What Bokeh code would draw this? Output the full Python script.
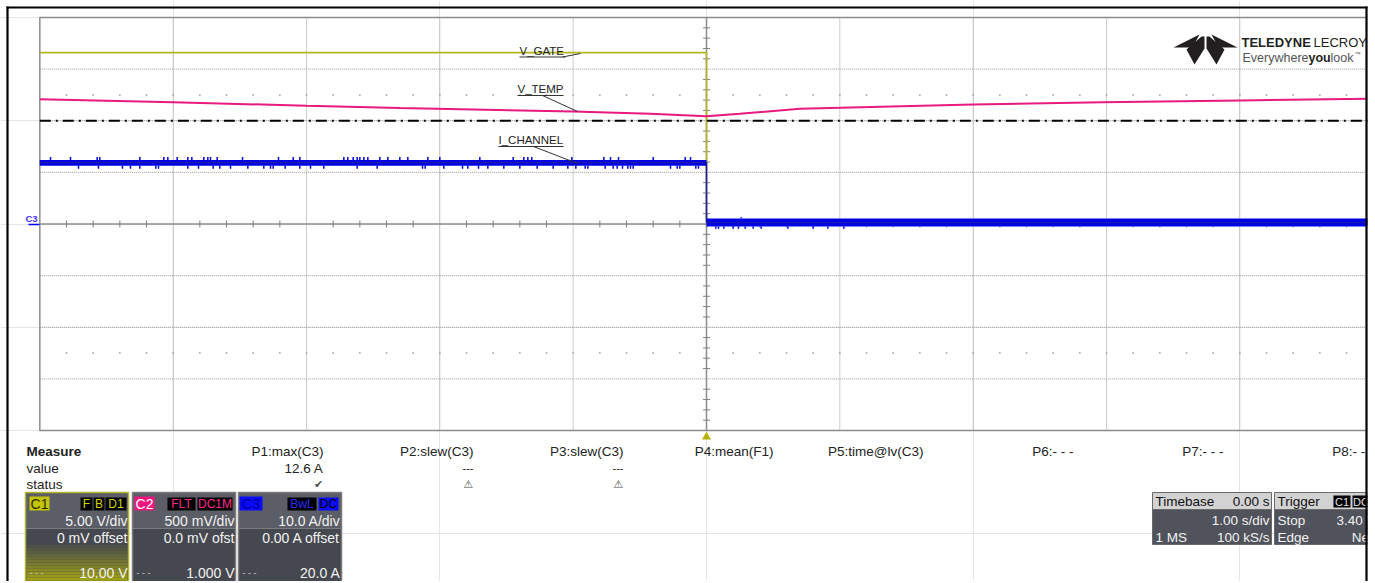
import numpy as np
from bokeh.plotting import figure
from bokeh.models import Range1d
from bokeh.core.properties import value
from bokeh.embed import file_html
from bokeh.resources import INLINE

channels = ["C1", "C2", "C3"]
trace_names = ["V_GATE", "V_TEMP", "I_CHANNEL"]
volts_per_div = [5.00, 0.500, 10.0]
div_labels = ["5.00 V/div", "500 mV/div", "10.0 A/div"]
offset_labels = ["0 mV offset", "0.0 mV ofst", "0.00 A offset"]
level_labels = ["10.00 V", "1.000 V", "20.0 A"]
badges = [["F", "B", "D1"], ["FLT", "DC1M"], ["BwL", "DC"]]
sec_per_div = 1.00
n_hdiv, n_vdiv = 10, 8

# C1  V_GATE  (V)
c1_t = [-5.0, 0.0, 0.0, 4.96]
c1_v = [16.6, 16.6, 0.3, 0.3]

# C2  V_TEMP  (V)
c2_t = [-5.0, -4.0, -3.0, -2.3, -1.0, -0.42, 0.0, 0.25, 0.7, 2.0, 2.97, 4.0, 4.96]
c2_v = [1.209, 1.180, 1.145, 1.123, 1.090, 1.067, 1.044, 1.067, 1.116, 1.157, 1.180, 1.196, 1.213]

# C3  I_CHANNEL  (A) envelope of the noisy band
c3_t = [-5.0, 0.0, 0.0, 4.96]
c3_hi = [12.4, 12.4, 1.07, 1.07]
c3_lo = [11.3, 11.3, -0.48, -0.48]
c3_mid = [11.9, 11.9, 0.3, 0.3]
# glitches seen on C3 (s)
c3_up_before = [-4.92, -4.77, -4.57, -4.55, -4.25, -4.07, -4.04, -3.97, -3.89, -3.86, -3.77, -3.74,
                -3.72, -3.67, -3.48, -3.21, -3.10, -3.05, -2.72, -2.69, -2.65, -2.62, -2.60, -2.57,
                -2.54, -2.45, -2.39, -2.30, -2.24, -2.09, -2.00, -1.70, -1.45, -1.37, -1.34, -1.31,
                -1.01, -0.77, -0.72, -0.66, -0.40, -0.16, -0.12]
c3_dn_before = [-4.71, -4.56, -4.38, -4.32, -4.25, -4.13, -4.11, -3.89, -3.81, -3.70, -3.65, -3.57,
                -3.44, -3.32, -3.27, -3.25, -3.16, -3.05, -2.97, -2.87, -2.62, -2.47, -2.13, -2.11,
                -1.97, -1.83, -1.79, -1.71, -1.64, -1.52, -1.40, -1.27, -1.15, -1.04, -0.98, -0.91,
                -0.89, -0.76, -0.70, -0.67, -0.63, -0.59, -0.57, -0.55, -0.27, -0.22, -0.20, -0.08, -0.06]
c3_dn_after = [0.07, 0.09, 0.13, 0.20, 0.24, 0.29, 0.35, 0.41, 0.61, 0.80, 0.91, 1.03]
c3_up_after = [0.26]
c3_peak_before = [13.0, 10.7]
c3_peak_after = [1.3, -0.9]

ref_level_div = 2.0   # dash-dot reference level

measure_names = ["P1:max(C3)", "P2:slew(C3)", "P3:slew(C3)", "P4:mean(F1)",
                 "P5:time@lv(C3)", "P6:- - -", "P7:- - -", "P8:- - -"]
measure_values = ["12.6 A", "---", "---", "", "", "", "", ""]
measure_status = ["\u2714", "\u26a0", "\u26a0", "", "", "", "", ""]

# ---------------- layout (pixels of the page) ----------------
W, H = 1373, 581
OX, OY = 0, 0
T0PX, PXS = 706.0, 133.333      # pixel of t=0, pixels per division
Y0PX, PXD = 223.5, 51.625       # pixel of 0 div, pixels per division


def X(px):
    return (px - T0PX) / PXS * sec_per_div


def Y(py):
    return (Y0PX - py) / PXD


xs, xe = X(OX), X(OX + W)
ys, ye = Y(OY + H), Y(OY)

p = figure(width=W, height=H, x_range=Range1d(xs, xe), y_range=Range1d(ys, ye),
           output_backend="svg", toolbar_location=None,
           x_axis_location=None, y_axis_location=None, min_border=0,
           min_border_left=0, min_border_right=0, min_border_top=0, min_border_bottom=0)
p.outline_line_color = None
p.background_fill_color = "white"
p.border_fill_color = "white"
p.extra_y_ranges = {ch: Range1d(ys * v, ye * v) for ch, v in zip(channels, volts_per_div)}

FONT = "Liberation Sans"


def txt(px, py, s, size=13.5, color="#222222", align="left", bold=False, font=FONT):
    p.text(x=[X(px)], y=[Y(py)], text=[s], text_font=value(font), text_font_size=f"{size}px",
           text_color=color, text_align=align, text_baseline="middle",
           text_font_style="bold" if bold else "normal")


def box(l, t, r, b, fill, line=None, lw=1.0):
    p.quad(left=[X(l)], right=[X(r)], top=[Y(t)], bottom=[Y(b)], fill_color=fill,
           line_color=line, line_width=lw)


def seg(x0, y0, x1, y1, color="#333333", w=1.0):
    p.segment(x0=[X(x0)], y0=[Y(y0)], x1=[X(x1)], y1=[Y(y1)], line_color=color, line_width=w)


# ---------------- graticule ----------------
hx = n_hdiv / 2 * sec_per_div
vy = n_vdiv / 2
tv = [k * sec_per_div for k in range(-4, 5) if k != 0]
p.segment(x0=tv, y0=[-vy] * len(tv), x1=tv, y1=[vy] * len(tv),
          line_color="#9c9c9c", line_dash="1 1", line_width=1)
yh = [k for k in range(-3, 4) if k != 0]
p.segment(x0=[-hx] * len(yh), y0=yh, x1=[hx] * len(yh), y1=yh,
          line_color="#9c9c9c", line_dash="1 1", line_width=1)
# outer border of graticule
p.line(x=[hx, -hx, -hx, hx], y=[vy, vy, -vy, -vy], line_color="#8c8c8c", line_width=1.5)
# centre cross with minor ticks
p.segment(x0=[-hx, 0], y0=[0, -vy], x1=[hx, 0], y1=[0, vy], line_color="#8c8c8c", line_width=1.5)
mt = [-hx + 0.2 * k * sec_per_div for k in range(1, 50) if k % 5 != 0]
th = 3.5 / PXD
p.segment(x0=mt, y0=[-th] * len(mt), x1=mt, y1=[th] * len(mt), line_color="#808080", line_width=1)
mv = [-vy + 0.2 * k for k in range(1, 40) if k % 5 != 0]
tw = 3.5 / PXS * sec_per_div
p.segment(x0=[-tw] * len(mv), y0=mv, x1=[tw] * len(mv), y1=mv, line_color="#808080", line_width=1)
# dotted rows at +-2.5 div
dx = [-hx + 0.2 * k * sec_per_div for k in range(1, 50)]
for yy in (2.5, -2.5):
    p.scatter(x=dx, y=[yy] * len(dx), marker="square", size=1.5, color="#9a9a9a", line_color=None)

# ---------------- traces ----------------
p.line(x=c1_t, y=c1_v, y_range_name="C1", line_color="#b5b51c", line_width=1.6)
p.line(x=c2_t, y=c2_v, y_range_name="C2", line_color="#e8197f", line_width=2)
p.line(x=[-hx, hx], y=[ref_level_div, ref_level_div], line_color="black", line_width=2,
       line_dash="11 5 2 5")
# C3 band + glitches
p.varea(x=c3_t, y1=c3_lo, y2=c3_hi, y_range_name="C3", fill_color="#0000e6")
p.line(x=c3_t, y=c3_mid, y_range_name="C3", line_color="#1a1ab0", line_width=1.5)
p.segment(x0=c3_up_before, y0=[c3_hi[0]] * len(c3_up_before), x1=c3_up_before,
          y1=[c3_peak_before[0]] * len(c3_up_before), y_range_name="C3", line_color="#0000e6", line_width=1.5)
p.segment(x0=c3_dn_before, y0=[c3_lo[0]] * len(c3_dn_before), x1=c3_dn_before,
          y1=[c3_peak_before[1]] * len(c3_dn_before), y_range_name="C3", line_color="#0000e6", line_width=1.5)
p.segment(x0=c3_dn_after, y0=[c3_lo[-1]] * len(c3_dn_after), x1=c3_dn_after,
          y1=[c3_peak_after[1]] * len(c3_dn_after), y_range_name="C3", line_color="#0000e6", line_width=1.5)
p.segment(x0=c3_up_after, y0=[c3_hi[-1]] * len(c3_up_after), x1=c3_up_after,
          y1=[c3_peak_after[0]] * len(c3_up_after), y_range_name="C3", line_color="#0000e6", line_width=1.5)

# trace labels with leader lines
lab_pos = [(519, 50, 565, 56.5, (562, 56.5, 580, 53)),
           (517, 88, 563, 95, (542, 95, 577, 111)),
           (498, 139, 563, 146, (533, 146, 577, 163))]
for name, (lx, ly, ux, uy, lead) in zip(trace_names, lab_pos):
    txt(lx, ly, name, size=11.5, color="#222222")
    seg(lx, uy, ux, uy, "#333333", 1.2)
    seg(*lead, color="#333333", w=1.0)

# C3 ground marker
txt(25, 218, "C3", size=9.5, color="#4433ff", bold=True)
seg(28, 224, 39, 224, "#0000ff", 1.5)
# trigger position marker
p.scatter(x=[0], y=[Y(436.5)], marker="triangle", size=9, color="#b4b400", line_color=None)

# ---------------- logo ----------------
logo_l = [(1173, 47), (1199, 34), (1192, 47)]
logo_d = [(1186, 49), (1201, 36), (1204, 36), (1204, 48), (1194, 64)]
for poly in (logo_l, logo_d):
    xsl = [X(a) for a, b in poly]
    ysl = [Y(b) for a, b in poly]
    p.patch(x=xsl, y=ysl, fill_color="#231f20", line_color=None)
    p.patch(x=[X(2 * 1205 - a) for a, b in poly], y=ysl, fill_color="#231f20", line_color=None)
txt(1241, 42, "TELEDYNE", size=13, color="#231f20", bold=True)
txt(1313, 42, "LECROY", size=13, color="#231f20")
txt(1242, 57.5, "Everywhere", size=12.5, color="#555555")
txt(1308, 57.5, "you", size=12.5, color="#231f20", bold=True)
txt(1330, 57.5, "look", size=12.5, color="#555555")
txt(1354, 53, "\u2122", size=6, color="#555555")

# ---------------- measure table ----------------
txt(26, 451, "Measure", bold=True)
txt(26, 467.5, "value")
txt(26, 484, "status")
for i, (nm, vl, st) in enumerate(zip(measure_names, measure_values, measure_status)):
    rx = 323 + 150 * i
    txt(rx, 451, nm, align="right")
    if vl:
        txt(rx, 467.5, vl, align="right", size=13.5 if vl != "---" else 11)
    if st:
        txt(rx - 5, 484, st, align="center", size=11, color="#505050", font="DejaVu Sans")

# ---------------- channel descriptor boxes ----------------
box_left = [25, 132, 238]
box_w = 103
ch_fill = ["#c4c400", "#f0167f", "#0a0aff"]
ch_text = ["#2a2a00", "#ffffff", "#000090"]
badge_text = [["#d0d000"] * 3, ["#ff2a8a"] * 2, ["#2a2aff", "#000000"]]
badge_fill = [["black"] * 3, ["black"] * 2, ["black", "#0a0aff"]]
label_ext = [(29, 49), (134, 154), (239, 262)]
badge_ext = [[(80, 92), (93, 104), (105, 126)], [(167, 195), (197, 232)], [(287, 316), (318, 338)]]
border = ["#b4b430", "#7c7c7c", "#7c7c7c"]
for i in range(3):
    L = box_left[i]
    R = L + box_w
    box(L, 492, R, 528, "#5b5e66")
    box(L, 528, R, 590, "#45484f")
    if i == 0:
        base = np.array([0x45, 0x48, 0x4f])
        top = np.array([0xa8, 0xa8, 0x12])
        for k in range(13):
            f = (k + 1) / 13.0
            c = base + (top - base) * f
            box(L + 1, 544 + 3 * k, R - 1, 547 + 3 * k,
                "#%02x%02x%02x" % tuple(int(v) for v in c))
    p.quad(left=[X(L)], right=[X(R)], top=[Y(492)], bottom=[Y(590)], fill_color=None,
           line_color=border[i], line_width=1.5)
    a, b = label_ext[i]
    box(a, 496, b, 510, ch_fill[i])
    txt((a + b) / 2, 503.5, channels[i], size=14, color=ch_text[i], align="center")
    for bt, (ba, bb), tc, bf in zip(badges[i], badge_ext[i], badge_text[i], badge_fill[i]):
        box(ba, 497, bb, 510, bf)
        txt((ba + bb) / 2, 503.5, bt, size=12, color=tc, align="center")
    txt(R - 1, 520, div_labels[i], size=14, color="#f2f2f2", align="right")
    txt(R - 1, 537, offset_labels[i], size=14, color="#f2f2f2", align="right")
    txt(R - 1, 572.5, level_labels[i], size=14, color="#f2f2f2", align="right")
    txt(L + 4, 572, "- - -", size=9, color="#d0d0d0")

# timebase box
box(1152, 492, 1271, 509, "#d2d2d2", "#6a6a6a")
box(1152, 509, 1271, 544, "#50535b", "#6a6a6a")
txt(1155, 500.5, "Timebase", size=13.5, color="#111111")
txt(1269, 500.5, "0.00 s", size=13.5, color="#111111", align="right")
txt(1269, 520, "1.00 s/div", size=13.5, color="#f2f2f2", align="right")
txt(1155, 537, "1 MS", size=13.5, color="#f2f2f2")
txt(1269, 537, "100 kS/s", size=13.5, color="#f2f2f2", align="right")
# trigger box
box(1274, 492, 1390, 509, "#d2d2d2", "#6a6a6a")
box(1274, 509, 1390, 544, "#50535b", "#6a6a6a")
txt(1277, 500.5, "Trigger", size=13.5, color="#111111")
box(1333, 495, 1350, 507, "black")
txt(1341.5, 501, "C1", size=11, color="#e0e0e0", align="center")
box(1352, 495, 1369, 507, "black")
txt(1360.5, 501, "DC", size=11, color="#e0e0e0", align="center")
txt(1277, 520, "Stop", size=13.5, color="#f2f2f2")
txt(1375, 520, "3.40 V", size=13.5, color="#f2f2f2", align="right")
txt(1277, 537, "Edge", size=13.5, color="#f2f2f2")
txt(1376, 537, "Neg", size=13.5, color="#f2f2f2", align="right")

# white margin beyond the screenshot's right frame, then the black frame
box(1367, -5, 1400, 600, "white")
p.segment(x0=[X(6), X(7), X(1366)], y0=[Y(7), Y(6), Y(6)],
          x1=[X(1367), X(7), X(1366)], y1=[Y(7), Y(600), Y(600)],
          line_color="black", line_width=2.2)

open("out.html", "w").write(file_html(p, INLINE))
